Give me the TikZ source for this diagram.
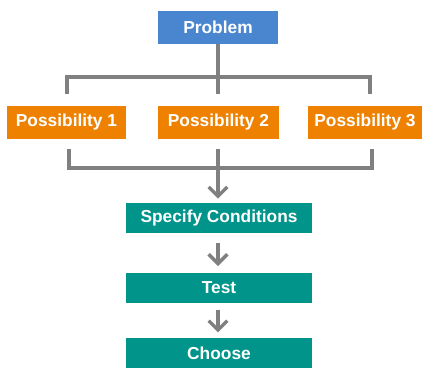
\documentclass[tikz,border=0pt]{standalone}
\usepackage{fontspec}
\setmainfont{Liberation Sans}
\usetikzlibrary{arrows.meta}
\usetikzlibrary{calc,positioning}

\definecolor{probblue}{RGB}{74,134,208}
\definecolor{possorange}{RGB}{238,130,0}
\definecolor{stepteal}{RGB}{0,148,138}
\definecolor{linkgray}{RGB}{128,128,128}

\tikzset{
  box/.style={rectangle, text=white, font=\bfseries\fontsize{13}{15}\selectfont,
    inner sep=0pt, minimum height=33*0.75pt},
  probbox/.style={box, fill=probblue, minimum width=120*0.75pt},
  possbox/.style={box, fill=possorange, minimum width=119*0.75pt},
  stepbox/.style={box, fill=stepteal, minimum width=186*0.75pt, minimum height=30*0.75pt},
  bar/.style={draw=linkgray, line width=3pt},
  flow/.style={draw=linkgray, line width=2.4pt,
    -{Straight Barb[length=7pt, width=14pt, line width=2.6pt]}},
}

\begin{document}
\begin{tikzpicture}[x=0.75pt,y=0.75pt,yscale=-1,xscale=1]
\useasboundingbox (0,0) rectangle (423,368);

% boxes
\node[probbox] (prob) at (218,27) {Problem};
\node[possbox] (p1) at (66.5,122.5) {Possibility 1};
\node[possbox, minimum width=121*0.75pt] (p2) at (218.5,122.5) {Possibility 2};
\node[possbox, minimum width=114*0.75pt] (p3) at (365,122.5) {Possibility 3};
\node[stepbox] (spec) at (219,218) {Specify Conditions};
\node[stepbox] (test) at (219,288) {Test};
\node[stepbox] (choose) at (219,353) {Choose};

% bracket from problem to the possibilities
\coordinate (t1) at ($(p1.north)+(0.5,-12)$);
\coordinate (t2) at ($(p2.north)+(-0.5,-12)$);
\coordinate (t3) at ($(p3.north)+(5,-12)$);
\coordinate (top) at (218,77);
\draw[bar] (prob) -- (t2);
\draw[bar] (t1) |- (top) -| (t3);

% bracket joining the possibilities
\coordinate (b1) at ($(p1.south)+(2.5,10)$);
\coordinate (b2) at ($(p2.south)+(-0.5,10)$);
\coordinate (b3) at ($(p3.south)+(7,10)$);
\coordinate (bot) at (218,168);
\draw[bar] (b1) |- (bot) -| (b3);
\draw[bar] (b2) -- (bot);

% steps, kept on the line of the bracket stem
\draw[flow, shorten >=3] (bot) -- (bot |- spec.north);
\draw[flow, shorten <=7, shorten >=5] (spec.south -| bot) -- (test.north -| bot);
\draw[flow, shorten <=5, shorten >=4] (test.south -| bot) -- (choose.north -| bot);
\end{tikzpicture}
\end{document}
